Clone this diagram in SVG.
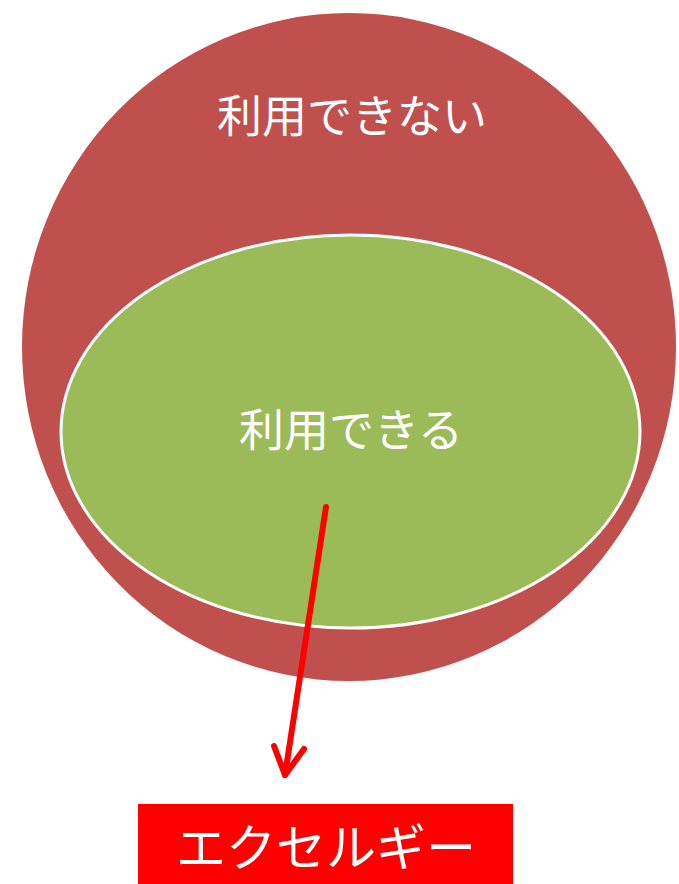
<svg xmlns="http://www.w3.org/2000/svg" width="679" height="884" viewBox="0 0 679 884">
  <style>
    .lbl { font-family: "Noto Sans CJK JP", "Noto Sans", sans-serif; fill: #ffffff; text-anchor: middle; }
    .arrow { fill: none; stroke: #ff0000; stroke-width: 6; stroke-linecap: round; stroke-linejoin: round; }
  </style>
  <rect width="679" height="884" fill="#ffffff"/>
  <g id="unusable">
    <ellipse cx="349" cy="347" rx="327" ry="334" fill="#c0504d"/>
    <text class="lbl" x="352" y="133" font-size="45">利用できない</text>
  </g>
  <g id="usable">
    <ellipse cx="350.5" cy="431.5" rx="289.5" ry="196.5" fill="#9bbb59" stroke="#ffffff" stroke-width="3"/>
    <text class="lbl" x="351" y="447" font-size="45">利用できる</text>
  </g>
  <g id="exergy">
    <rect x="138" y="804" width="375" height="80" fill="#ff0000"/>
    <text class="lbl" x="326" y="866" font-size="50">エクセルギー</text>
  </g>
  <g id="connectors">
    <path class="arrow" d="M326,507 L285,775"/>
    <path class="arrow" d="M274,746 L285,775 L304,749"/>
  </g>
</svg>
